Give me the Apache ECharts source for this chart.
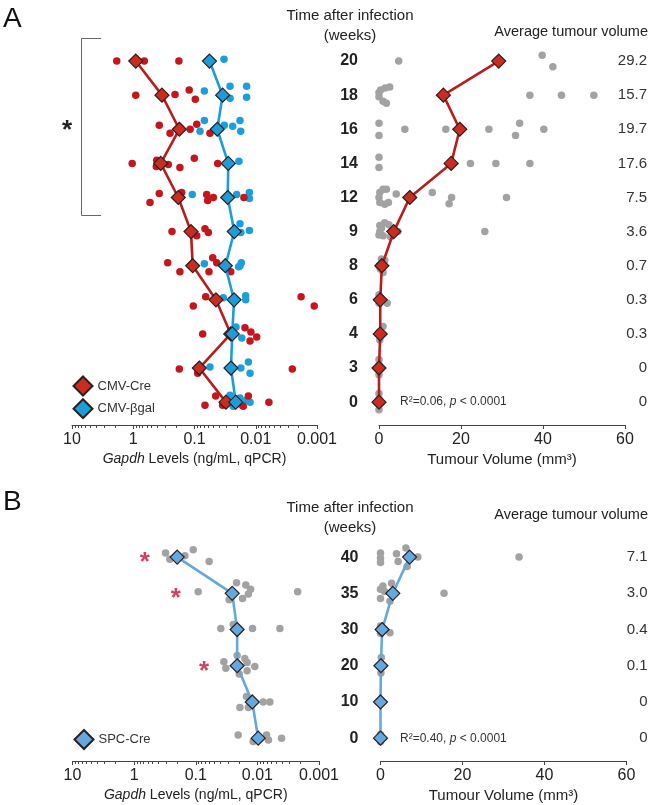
<!DOCTYPE html>
<html>
<head>
<meta charset="utf-8">
<script src="https://cdn.jsdelivr.net/npm/echarts@6/dist/echarts.min.js"></script>
<style>
  html, body { margin: 0; padding: 0; background: #fff; }
  #chart { width: 651px; height: 805px; }
</style>
</head>
<body>
<div id="chart"></div>
<script>
// ---- panel A: CMV-Cre vs CMV-βgal ----
const weeksA = ['0', '3', '4', '6', '8', '9', '12', '14', '16', '18', '20'];
const avgA = [0, 0, 0.3, 0.3, 0.7, 3.6, 7.5, 17.6, 19.7, 15.7, 29.2];
const creMeans = [0.0306, 0.0835, 0.0256, 0.0446, 0.107, 0.114, 0.184, 0.356, 0.177, 0.34, 0.91];
const bgalMeans = [0.0212, 0.0254, 0.0242, 0.0226, 0.0314, 0.0224, 0.0287, 0.0281, 0.0425, 0.0347, 0.057];

// [gapdh ng/mL, row position (row index + jitter)]
const creDots = [
  [1.86, 10], [0.66, 10], [0.18, 10],
  [0.91, 9], [0.208, 9.02], [0.122, 9.15], [0.097, 8.88],
  [0.376, 8.12], [0.251, 7.88], [0.118, 8], [0.092, 8.15], [0.0559, 7.88],
  [1.04, 7], [0.414, 7.09], [0.42, 6.91], [0.268, 6.97], [0.173, 6.88], [0.1007, 7.15], [0.0418, 7],
  [0.376, 6.12], [0.533, 5.85], [0.162, 6.15], [0.0632, 6.09], [0.0609, 5.91], [0.0493, 6], [0.0156, 6],
  [0.233, 5], [0.0674, 5.08], [0.0594, 4.97], [0.092, 4.88],
  [0.274, 4.09], [0.173, 3.82], [0.058, 3.82], [0.0504, 4.23], [0.0434, 4.09], [0.0256, 3.82],
  [0.1047, 2.82], [0.0656, 3.09], [0.00182, 3.09], [0.00111, 2.82],
  [0.0735, 2], [0.015, 2.18], [0.012, 2.06], [0.00965, 1.91], [0.0124, 1.79],
  [0.177, 0.97], [0.0887, 0.85], [0.00253, 0.97],
  [0.0674, -0.09], [0.0451, 0.18], [0.0347, -0.09], [0.016, -0.12], [0.0132, 0.18], [0.0061, 0]
];
const bgalDots = [
  [0.033, 10.05],
  [0.069, 9.12], [0.0263, 9.26], [0.0263, 8.91], [0.0141, 9.26], [0.0141, 8.94],
  [0.0813, 7.94], [0.069, 8.26], [0.0326, 8.12], [0.0238, 8.09], [0.0181, 8.26], [0.0176, 7.94],
  [0.0188, 7.06],
  [0.1087, 6.09], [0.0205, 6.09], [0.0127, 6.15], [0.0127, 5.97],
  [0.0181, 5.23], [0.0127, 5.03], [0.0175, 4.97],
  [0.069, 4.06], [0.019, 3.97], [0.0172, 4.09], [0.0181, 4],
  [0.0339, 3.06], [0.0146, 3.12], [0.0146, 3],
  [0.021, 2.2], [0.0169, 1.88],
  [0.0559, 1.03], [0.0175, 1], [0.0124, 0.85], [0.0132, 1.18],
  [0.0263, 0.2], [0.0181, 0.12], [0.0141, 0.06], [0.0124, 0], [0.0233, -0.12], [0.0169, -0.09]
];
// [tumour volume mm3, row position]
const volDotsA = [
  [4.8, 10], [39.8, 10.17], [42.4, 9.83],
  [0, 9.08], [0.4, 9.15], [1.5, 9.21], [2.6, 9.24], [0, 8.95], [1.0, 8.82], [1.8, 8.76], [36.8, 9], [44.5, 9], [52.4, 9],
  [0, 8.18], [0, 7.82], [6.3, 8], [16.3, 8], [26.8, 8], [33.3, 7.82], [34.3, 8.18], [40.2, 8],
  [0, 7.18], [0, 6.88], [22.3, 7], [28.5, 7], [36.8, 7],
  [0.2, 6.15], [1.0, 6.24], [1.8, 6.24], [0, 6], [0.2, 5.85], [1.4, 5.8], [2.3, 5.85], [4.2, 6.1], [13.0, 6.15], [17.7, 6], [17.1, 5.82], [31.1, 6],
  [0.2, 5.18], [1.4, 5.26], [2.4, 5.2], [0.2, 5], [1.0, 4.88], [4.6, 5], [2.8, 4.85], [0, 4.9], [0.6, 5.1], [25.8, 5],
  [0.6, 4.2], [1.4, 4.15], [1.0, 3.8], [0, 4], [0.3, 3.9],
  [0, 3.15], [2.0, 2.9], [0.5, 3.05], [0, 2.9],
  [1.0, 2.22], [0.2, 1.82], [0, 2.05],
  [0, 1.25], [0, 0.8], [0, 1.1],
  [0, 0.25], [0, -0.22], [0, 0.1]
];

// ---- panel B: SPC-Cre ----
const weeksB = ['0', '10', '20', '30', '35', '40'];
const avgB = [0, 0, 0.1, 0.4, 3.0, 7.1];
const spcMeans = [0.0097, 0.0121, 0.0213, 0.0213, 0.0256, 0.2];
const spcDots = [
  [0.309, 5.11], [0.263, 4.94], [0.150, 5.04], [0.110, 5.2], [0.0606, 4.88],
  [0.0914, 4.04], [0.0218, 4.29], [0.0154, 4.23], [0.0129, 4.11], [0.014, 3.98], [0.0174, 3.86], [0.0287, 3.82], [0.00222, 4.04],
  [0.0392, 3.03], [0.0246, 3.14], [0.012, 3.03], [0.00431, 3.03],
  [0.035, 2.11], [0.0325, 1.93], [0.0213, 2.28], [0.016, 2.2], [0.0147, 2.09], [0.011, 1.98], [0.0147, 1.86], [0.0197, 1.77],
  [0.015, 1.15], [0.0192, 0.85], [0.014, 0.85], [0.00805, 1], [0.00627, 1],
  [0.0205, 0.09], [0.0117, -0.09], [0.0071, 0.09], [0.0066, -0.05], [0.00405, 0]
];
const sigMarks = [[0.67, 5], [0.21, 4], [0.073, 2]];
const volDotsB = [
  [0, 5.11], [0, 4.97], [0, 4.85], [3.9, 5.09], [4.3, 4.88], [6.2, 5.25], [9.1, 5], [6.5, 4.74], [33.8, 5],
  [0, 4.11], [0.6, 4.2], [2.7, 4.28], [0, 3.86], [2.3, 3.78], [1.0, 4.05], [15.5, 4],
  [2.3, 2.91], [0.2, 3], [0, 3.1], [0, 2.9],
  [0.2, 2.23], [0.1, 1.8], [0, 2],
  [0, 1],
  [0, 0.1], [0, -0.1]
];

// axis ticks
const decades = [0.001, 0.01, 0.1, 1];
const minorTicks = decades.flatMap(d => [2, 3, 4, 5, 6, 7, 8, 9].map(k => +(k * d).toPrecision(2)));

const FONT = "'Liberation Sans', Arial, sans-serif";
const RED_DOT = '#c4161c', BLUE_DOT = '#1a9fdc', GRAY_DOT = '#a2a2a2';
const AXIS = '#444';

const toRows = arr => arr.map((v, i) => [v, i]);
const avgLabel = v => (v === 0 ? '0' : v.toFixed(1));

function gapdhAxis(grid, withLabels) {
  return {
    type: 'log', gridIndex: grid, min: 0.001, max: 10, logBase: 10, inverse: true,
    position: 'bottom', offset: 0,
    axisLine: { show: withLabels, onZero: false, lineStyle: { color: AXIS, width: 1 } },
    axisTick: withLabels
      ? { show: true, length: 4, lineStyle: { color: AXIS } }
      : { show: true, length: 3, customValues: minorTicks, lineStyle: { color: AXIS } },
    axisLabel: {
      show: withLabels, fontSize: 16, color: '#222', margin: 7,
      formatter: v => String(parseFloat(Number(v).toPrecision(2)))
    },
    splitLine: { show: false },
    name: withLabels ? '{i|Gapdh} Levels (ng/mL, qPCR)' : '',
    nameLocation: 'middle', nameGap: 27,
    nameTextStyle: {
      fontSize: 14, color: '#222', fontFamily: FONT,
      rich: { i: { fontStyle: 'italic', fontSize: 14, color: '#222', fontFamily: FONT } }
    }
  };
}
function volAxis(grid) {
  return {
    type: 'value', gridIndex: grid, min: 0, max: 60, interval: 20,
    axisLine: { onZero: false, lineStyle: { color: AXIS, width: 1 } },
    axisTick: { length: 4, lineStyle: { color: AXIS } },
    axisLabel: { fontSize: 16, color: '#222', margin: 7 },
    splitLine: { show: false },
    name: 'Tumour Volume (mm³)', nameLocation: 'middle', nameGap: 27,
    nameTextStyle: { fontSize: 15, color: '#222', fontFamily: FONT }
  };
}
function rowAxis(grid, min, max, labels, side, margin) {
  return {
    type: 'value', gridIndex: grid, min: min, max: max, position: side || 'left',
    show: !!labels,
    axisLine: { show: false, onZero: false }, axisTick: { show: false }, splitLine: { show: false },
    axisLabel: labels ? {
      show: true, customValues: labels.map((_, i) => i), margin: margin,
      align: side === 'right' ? 'right' : undefined,
      fontSize: side === 'right' ? 15 : 16,
      fontWeight: side === 'right' ? 'normal' : 'bold',
      color: side === 'right' ? '#333' : '#222',
      formatter: v => labels[Math.round(v)]
    } : { show: false }
  };
}

function dots(data, color, x, y) {
  return {
    type: 'scatter', xAxisIndex: x, yAxisIndex: y, data: data, symbolSize: 7.5,
    itemStyle: { color: color, opacity: 1 }, z: 2, silent: true
  };
}
function meanLine(name, data, fill, lineColor, x, y) {
  return {
    type: 'line', name: name, xAxisIndex: x, yAxisIndex: y, data: data,
    symbol: 'diamond', symbolSize: 14, showSymbol: true,
    lineStyle: { color: lineColor, width: 2.6 },
    itemStyle: { color: fill, borderColor: '#2a1e1e', borderWidth: 1.2 },
    z: 3, silent: true
  };
}

const chart = echarts.init(document.getElementById('chart'), null, { renderer: 'canvas' });

chart.setOption({
  animation: false,
  backgroundColor: '#fff',
  textStyle: { fontFamily: FONT },
  grid: [
    { left: 72, top: 44, width: 245, height: 381 },
    { left: 379, top: 44, width: 246, height: 381 },
    { left: 72.5, top: 539, width: 246.5, height: 222 },
    { left: 380.5, top: 539, width: 246, height: 222 }
  ],
  xAxis: [
    gapdhAxis(0, true), gapdhAxis(0, false), volAxis(1),
    gapdhAxis(2, true), gapdhAxis(2, false), volAxis(3)
  ],
  yAxis: [
    rowAxis(0, -0.67, 10.5, null),
    rowAxis(1, -0.67, 10.5, weeksA, 'left', 21),
    rowAxis(1, -0.67, 10.5, avgA.map(avgLabel), 'right', 22),
    rowAxis(2, -0.63, 5.5, null),
    rowAxis(3, -0.63, 5.5, weeksB, 'left', 22),
    rowAxis(3, -0.63, 5.5, avgB.map(avgLabel), 'right', 21)
  ],
  legend: [
    {
      data: ['CMV-Cre', 'CMV-βgal'], orient: 'vertical', left: 72.5, top: 375.5, padding: 0,
      icon: 'diamond', itemWidth: 19, itemHeight: 19, itemGap: 1.7, selectedMode: false,
      textStyle: { fontSize: 13, color: '#333', fontFamily: FONT }
    },
    {
      data: ['SPC-Cre'], orient: 'vertical', left: 73.5, top: 729, padding: 0,
      icon: 'diamond', itemWidth: 19, itemHeight: 19, selectedMode: false,
      textStyle: { fontSize: 13, color: '#333', fontFamily: FONT }
    }
  ],
  series: [
    dots(bgalDots, BLUE_DOT, 0, 0),
    dots(creDots, RED_DOT, 0, 0),
    meanLine('CMV-Cre', toRows(creMeans), '#cc2b20', '#b81d1d', 0, 0),
    meanLine('CMV-βgal', toRows(bgalMeans), '#1d9dd8', '#1d9dd8', 0, 0),
    dots(volDotsA, GRAY_DOT, 2, 1),
    meanLine('CMV-Cre volume', toRows(avgA), '#cc2b20', '#b81d1d', 2, 1),
    dots(spcDots, GRAY_DOT, 3, 3),
    meanLine('SPC-Cre', toRows(spcMeans), '#64a8e0', '#64a8dc', 3, 3),
    {
      type: 'scatter', name: 'significance', xAxisIndex: 3, yAxisIndex: 3, data: sigMarks,
      symbolSize: 1, itemStyle: { color: 'rgba(0,0,0,0)' }, silent: true, z: 4,
      label: { show: true, position: 'inside', formatter: '*', color: '#c4103a', fontSize: 26, fontWeight: 'bold', offset: [0, 6], fontFamily: FONT }
    },
    dots(volDotsB, GRAY_DOT, 5, 4),
    meanLine('SPC-Cre volume', toRows(avgB), '#64a8e0', '#64a8dc', 5, 4)
  ],
  graphic: [
    { type: 'text', x: 3, y: 19, style: { text: 'A', fontSize: 28, fontFamily: FONT, fill: '#111', verticalAlign: 'middle' } },
    { type: 'text', x: 3, y: 502, style: { text: 'B', fontSize: 28, fontFamily: FONT, fill: '#111', verticalAlign: 'middle' } },
    { type: 'text', x: 350, y: 26, style: { text: 'Time after infection\n(weeks)', fontSize: 15, lineHeight: 20, fontFamily: FONT, fill: '#222', align: 'center', verticalAlign: 'middle' } },
    { type: 'text', x: 648, y: 32, style: { text: 'Average tumour volume', fontSize: 14.5, fontFamily: FONT, fill: '#222', align: 'right', verticalAlign: 'middle' } },
    { type: 'text', x: 350, y: 518, style: { text: 'Time after infection\n(weeks)', fontSize: 15, lineHeight: 20, fontFamily: FONT, fill: '#222', align: 'center', verticalAlign: 'middle' } },
    { type: 'text', x: 648, y: 515, style: { text: 'Average tumour volume', fontSize: 14.5, fontFamily: FONT, fill: '#222', align: 'right', verticalAlign: 'middle' } },
    {
      type: 'text', x: 400, y: 402,
      style: {
        text: '{n|R²=0.06, }{i|p}{n| < 0.0001}', verticalAlign: 'middle',
        rich: { n: { fontSize: 12, fontFamily: FONT, fill: '#333' }, i: { fontSize: 12, fontStyle: 'italic', fontFamily: FONT, fill: '#333' } }
      }
    },
    {
      type: 'text', x: 400, y: 738.5,
      style: {
        text: '{n|R²=0.40, }{i|p}{n| < 0.0001}', verticalAlign: 'middle',
        rich: { n: { fontSize: 12, fontFamily: FONT, fill: '#333' }, i: { fontSize: 12, fontStyle: 'italic', fontFamily: FONT, fill: '#333' } }
      }
    },
    { type: 'polyline', shape: { points: [[101, 38.5], [81.5, 38.5], [81.5, 215.5], [101, 215.5]] }, style: { stroke: '#666', lineWidth: 1, fill: null } },
    { type: 'text', x: 67, y: 131, style: { text: '*', fontSize: 26, fontWeight: 'bold', fontFamily: FONT, fill: '#222', align: 'center', verticalAlign: 'middle' } }
  ]
});
</script>
</body>
</html>
